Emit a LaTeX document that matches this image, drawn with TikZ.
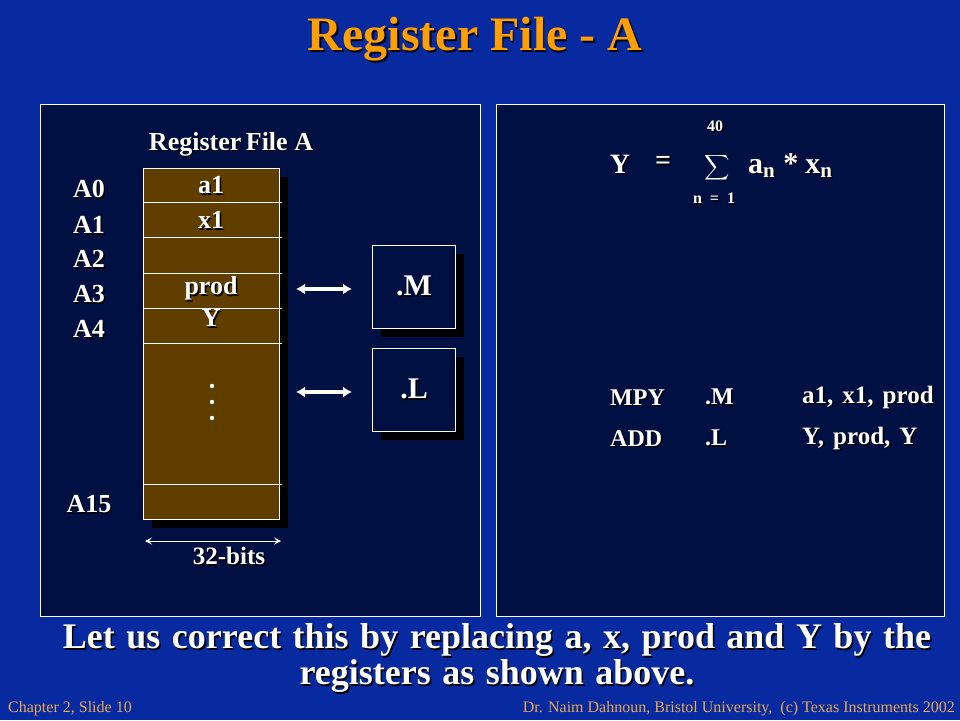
\documentclass[tikz,border=0pt]{standalone}
\usepackage{fontspec}
\setmainfont{Liberation Serif}
\usetikzlibrary{arrows.meta,shadows}
\definecolor{slideblue}{RGB}{8,42,160}
\definecolor{panelblue}{RGB}{0,16,66}
\definecolor{titleorange}{RGB}{255,160,0}
\definecolor{footorange}{RGB}{230,168,80}
\definecolor{regbrown}{RGB}{96,62,0}
\def\FS#1{\fontsize{#1}{#1}\selectfont}
\def\SH#1{\leavevmode\rlap{\kern1.5pt\raisebox{-1.5pt}{\color{black}#1}}#1}
\begin{document}
\begin{tikzpicture}[x=1pt,y=-1pt,
  txt/.style={text=white,inner sep=0pt,font=\bfseries\FS{#1}},
  boxshadow/.style={drop shadow={fill=black,opacity=1,shadow xshift=8pt,shadow yshift=-8pt}},
  unitbox/.style={draw=white,line width=1pt,fill=panelblue,minimum size=83pt,boxshadow,txt=30},
  busarrow/.style={white,line width=3.5pt,{Latex[length=9pt,width=11pt]}-{Latex[length=9pt,width=11pt]}},
  widthline/.style={white,line width=0.8pt,{Stealth[length=7pt,width=7pt,inset=3pt]}-{Stealth[length=7pt,width=7pt,inset=3pt]}}]
  \fill[slideblue] (0,0) rectangle (960,720);
  \useasboundingbox (0,0) rectangle (960,720);
  \node[text=titleorange,inner sep=0pt,font=\bfseries\FS{48}] (title) at (475,40) {\SH{Register File - A}};
  \filldraw[fill=panelblue,draw=white,line width=1pt] (40,104) rectangle (480,616);
  \filldraw[fill=panelblue,draw=white,line width=1pt] (496,104) rectangle (944,616);
  \node[txt=26] (rfname) at (231,145) {\SH{Register\kern-2pt\ File A}};
  \node[draw=white,line width=1pt,fill=regbrown,anchor=north west,minimum width=136pt,minimum height=351pt,inner sep=0pt,boxshadow] (regA) at (143,168) {};
  \foreach \y in {202,237,273,308,343,484} \draw[white,line width=1pt] (143,\y) -- (282,\y);
  \foreach \t/\y in {a1/186,x1/221,prod/289,Y/319} \node[txt=26] (cell-\t) at (211,\y) {\SH{\t}};
  \foreach \y in {386,402,418} \fill[white] (212,\y) circle (2.2pt);
  \foreach \n/\y in {0/190,1/226,2/260,3/295,4/330,15/505} \node[txt=26] (A\n) at (89,\y) {\SH{A\n}};
  \coordinate (wl) at (145,541);
  \coordinate (wr) at (281,541);
  \draw[widthline] (wl) -- (wr);
  \node[txt=25] (bits) at (229,557) {\SH{32-bits}};
  \node[unitbox] (M) at (414,287) {\SH{.M}};
  \node[unitbox] (L) at (414,390) {\SH{.L}};
  \draw[busarrow] ([xshift=-76pt,yshift=-2pt]M.west) -- ([xshift=-20pt,yshift=-2pt]M.west);
  \draw[busarrow] ([xshift=-76pt,yshift=-2pt]L.west) -- ([xshift=-20pt,yshift=-2pt]L.west);
  \node[txt=28] (fY) at (620,165) {\SH{Y}};
  \node[txt=28] (feq) at (663,164) {\SH{=}};
  \node[text=white,inner sep=0pt] (fsum) at (717,172) {\smash{\scalebox{1.75}{$\displaystyle\sum$}}};
  \node[txt=16] (ftop) at (715,127) {\SH{40}};
  \node[txt=16] (fbot) at (714,199) {\SH{n\enspace=\enspace1}};
  \node[txt=30,anchor=west] (fterm) at (748,166) {\SH{a\textsubscript{n}\kern8pt*\kern7pt x\textsubscript{n}}};
  \node[txt=24,anchor=west] (op1) at (610,398) {\SH{MPY}};
  \node[txt=24,anchor=west] (u1) at (705,398) {\SH{.M}};
  \node[txt=25,anchor=west] (arg1) at (802,398) {\spaceskip=9pt\SH{a1, x1, prod}};
  \node[txt=24,anchor=west] (op2) at (610,439) {\SH{ADD}};
  \node[txt=24,anchor=west] (u2) at (705,439) {\SH{.L}};
  \node[txt=25,anchor=west] (arg2) at (802,439) {\spaceskip=9pt\SH{Y, prod, Y}};
  \node[text=white,inner sep=0pt,align=center,font=\bfseries\fontsize{36}{36}\selectfont] (note) at (497,659)
    {\spaceskip=11.5pt\SH{Let us correct this by replacing a, x, prod and Y by the}\\\spaceskip=11.5pt\SH{registers as shown above.}};
  \node[text=footorange,inner sep=0pt,anchor=west,font=\FS{16}] (foot-l) at (8,709) {Chapter 2, Slide 10};
  \node[text=footorange,inner sep=0pt,anchor=east,font=\FS{16}] (foot-r) at (955,709) {Dr. Naim Dahnoun, Bristol University,\ \ (c) Texas Instruments 2002};
\end{tikzpicture}
\end{document}
